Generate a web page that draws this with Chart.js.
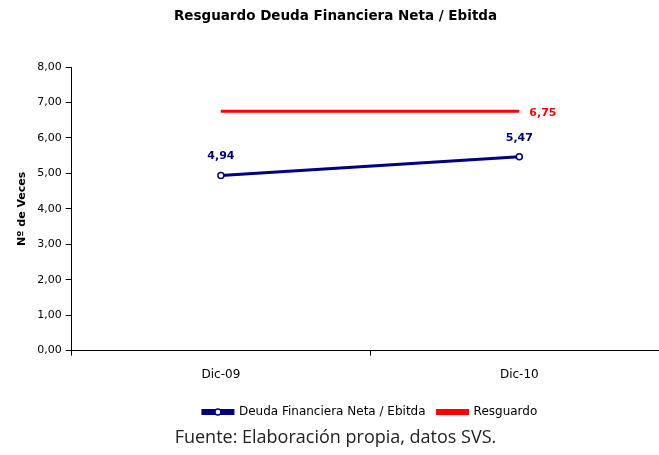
<!DOCTYPE html>
<html><head><meta charset="utf-8">
<script src="https://cdn.jsdelivr.net/npm/chart.js@4.4.1/dist/chart.umd.min.js"></script>
<style>
html,body{margin:0;padding:0;background:#fff;overflow:hidden;width:659px;height:455px}
#wrap{position:relative;width:659px;height:455px;overflow:hidden}
#cc{position:absolute;left:0;top:0;width:674px;height:428px}
#title{position:absolute;left:0;top:7px;width:671px;text-align:center;font:bold 13.5px "DejaVu Sans", sans-serif;color:#000}
#foot{position:absolute;left:0;top:424px;width:671px;text-align:center;font:18px "Open Sans", sans-serif;color:#222}
</style></head><body>
<div id="wrap"><div id="cc"><canvas id="c" width="674" height="428"></canvas></div>
<div id="title">Resguardo Deuda Financiera Neta / Ebitda</div>
<div id="foot">Fuente: Elaboración propia, datos SVS.</div></div>
<script>
const categories = ["Dic-09", "Dic-10"];
const deudaValues = [4.94, 5.47];
const resguardoValues = [6.75, 6.75];
const yTicks = [0,1,2,3,4,5,6,7,8];
const fmt = v => v.toFixed(2).replace('.', ',');
const FONT = '"DejaVu Sans", sans-serif';

const labelPlugin = {
  id: 'vlabels',
  afterDatasetsDraw(chart) {
    const ctx = chart.ctx;
    ctx.save();
    ctx.font = 'bold 11px ' + FONT;
    const m0 = chart.getDatasetMeta(0);
    ctx.fillStyle = '#000080'; ctx.textAlign = 'center'; ctx.textBaseline = 'middle';
    m0.data.forEach((p, i) => ctx.fillText(fmt(deudaValues[i]), p.x, p.y - 19));
    const m1 = chart.getDatasetMeta(1);
    const last = m1.data[m1.data.length - 1];
    ctx.fillStyle = '#ff0000'; ctx.textAlign = 'left';
    ctx.fillText(fmt(resguardoValues[resguardoValues.length - 1]), last.x + 10, last.y + 2);
    const lg = chart.legend;
    if (lg && lg.legendHitBoxes && lg.legendHitBoxes[0]) {
      const b = lg.legendHitBoxes[0];
      const cx = b.left + 15, cy = b.top + b.height / 2;
      ctx.beginPath(); ctx.arc(cx, cy, 3, 0, Math.PI * 2);
      ctx.fillStyle = '#fff'; ctx.fill();
      ctx.lineWidth = 1.5; ctx.strokeStyle = '#000080'; ctx.stroke();
    }
    ctx.restore();
  }
};

new Chart(document.getElementById('c'), {
  type: 'line',
  data: {
    labels: categories,
    datasets: [
      { label: 'Deuda Financiera Neta / Ebitda', data: deudaValues, borderColor: '#000080', backgroundColor: '#000080',
        borderWidth: 3, pointRadius: 3, pointBackgroundColor: '#ffffff', pointBorderColor: '#000080', pointBorderWidth: 1.5 },
      { label: 'Resguardo', data: resguardoValues, borderColor: '#ff0000', backgroundColor: '#ff0000',
        borderWidth: 3, pointRadius: 0 }
    ]
  },
  options: {
    responsive: false, animation: false, devicePixelRatio: 1,
    layout: { padding: { left: 12, right: 0, top: 67, bottom: 0 } },
    plugins: {
      title: { display: false },
      legend: { position: 'bottom', fullSize: false,
        labels: { color: '#000', font: { family: FONT, size: 12 }, boxWidth: 30, boxHeight: 3, padding: 12 },
      },
      tooltip: { enabled: false }
    },
    scales: {
      x: {
        offset: true,
        grid: { display: true, offset: true, drawOnChartArea: false, drawTicks: true, tickLength: 5, color: '#000' },
        border: { color: '#000', width: 1 },
        ticks: { color: '#000', font: { family: FONT, size: 12 }, padding: 12 }
      },
      y: {
        min: 0, max: 8,
        afterBuildTicks: s => { s.ticks = yTicks.map(v => ({ value: v })); },
        grid: { drawOnChartArea: false, drawTicks: true, tickLength: 6, color: '#000' },
        border: { color: '#000', width: 1 },
        title: { display: true, text: 'Nº de Veces', color: '#000', font: { family: FONT, size: 11, weight: 'bold' }, padding: { bottom: 4 } },
        ticks: { color: '#000', font: { family: FONT, size: 11 }, padding: 4, callback: v => fmt(v) }
      }
    }
  },
  plugins: [labelPlugin]
});
</script>
</body></html>
